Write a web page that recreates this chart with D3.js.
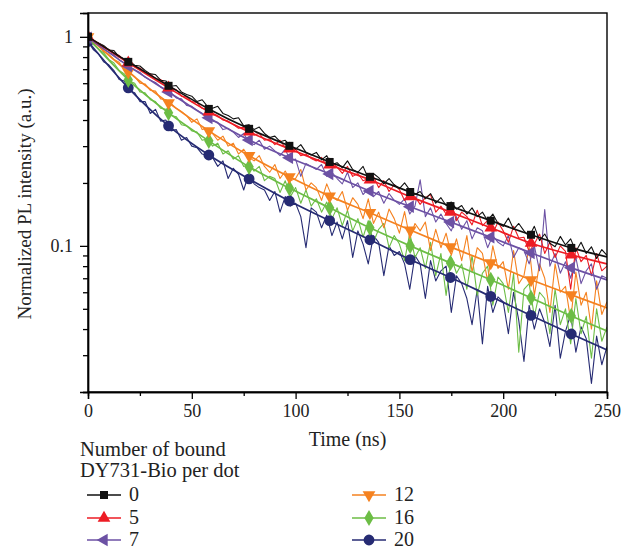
<!DOCTYPE html>
<html>
<head>
<meta charset="utf-8">
<script src="https://cdn.jsdelivr.net/npm/d3@7"></script>
<style>
  body { margin: 0; background: #fff; }
  svg { font-family: "Liberation Serif", "Times New Roman", serif; }
</style>
</head>
<body>
<div id="chart"></div>
<script>
// series labels and colours
var seriesNames = ["0", "5", "7", "12", "16", "20"];
var seriesColors = ["#111111", "#ed1c24", "#6c51a4", "#f58220", "#6cbd45", "#262b73"];

// fitted curves, read at the marker positions (last point is the end of the line)
var fitTimes = [0, 19.4, 38.8, 58.2, 77.6, 97, 116.4, 135.8, 155.2, 174.6, 194, 213.4, 232.8, 250];
var fit0  = [1.0, .759, .583, .452, .363, .301, .252, .214, .181, .155, .132, .113, .0978, .0886];
var fit5  = [1.0, .751, .570, .438, .351, .291, .244, .207, .172, .145, .122, .103, .0906, .0820];
var fit7  = [.989, .726, .545, .410, .321, .264, .221, .183, .154, .130, .110, .0926, .0785, .0688];
var fit12 = [1.0, .680, .483, .355, .270, .214, .173, .144, .119, .0989, .0829, .0688, .0583, .0505];
var fit16 = [.989, .623, .433, .318, .239, .189, .152, .122, .100, .0829, .0688, .0564, .0462, .0392];
var fit20 = [.95, .570, .375, .272, .209, .164, .132, .107, .0860, .0706, .0573, .0465, .0379, .0318];

// measured decays, one value every 2.5 ns from 0 to 250 ns
var traceStep = 2.5;
var trace0 = [1.0, .955, .935, .91, .865, .86, .80, .785, .77, .73, .725, .69, .665, .66, .62, .615,
  .58, .585, .545, .53, .52, .49, .50, .465, .455, .465, .43, .42, .405, .41, .375, .38,
  .36, .37, .345, .33, .335, .315, .32, .30, .29, .305, .28, .272, .28, .258, .27, .245,
  .25, .236, .255, .232, .225, .24, .21, .222, .212, .198, .21, .196, .188, .20, .185, .176,
  .182, .168, .178, .16, .17, .156, .162, .15, .156, .142, .152, .138, .145, .132, .142, .128,
  .124, .136, .12, .128, .118, .111, .124, .106, .114, .103, .099, .111, .101, .108, .094, .104,
  .092, .099, .087, .096, .09];
var trace5 = [.99, .96, .935, .89, .87, .84, .815, .77, .755, .72, .71, .675, .665, .63, .625, .59,
  .565, .56, .52, .515, .49, .485, .455, .45, .43, .42, .40, .395, .38, .365, .37, .345,
  .34, .345, .32, .325, .305, .32, .295, .285, .29, .27, .275, .262, .255, .265, .24, .25,
  .238, .222, .24, .215, .222, .205, .21, .215, .19, .205, .182, .196, .186, .165, .18, .172,
  .158, .17, .176, .145, .155, .142, .16, .132, .145, .138, .126, .148, .125, .132, .115, .13,
  .118, .104, .124, .109, .11, .094, .102, .114, .092, .104, .088, .10, .094, .062, .098, .084,
  .09, .072, .092, .076, .08];
var trace7 = [.98, .94, .915, .875, .845, .82, .775, .75, .72, .695, .675, .64, .62, .605, .575, .56,
  .54, .51, .505, .47, .465, .445, .43, .41, .395, .39, .36, .365, .35, .33, .345, .315,
  .305, .32, .29, .30, .285, .27, .29, .255, .26, .215, .248, .24, .232, .245, .215, .225,
  .21, .198, .225, .19, .20, .176, .188, .172, .182, .16, .178, .165, .158, .168, .142, .155,
  .207, .138, .152, .13, .142, .128, .118, .138, .12, .132, .108, .122, .118, .098, .112, .104,
  .10, .112, .088, .098, .095, .082, .10, .076, .149, .08, .092, .074, .084, .07, .088, .066,
  .076, .082, .062, .072, .07];
var trace12 = [1.0, .94, .915, .85, .825, .78, .755, .69, .68, .645, .60, .595, .555, .55, .505, .50,
  .48, .455, .44, .42, .39, .405, .36, .365, .345, .32, .335, .30, .31, .275, .29, .265,
  .255, .27, .24, .225, .245, .21, .228, .205, .21, .232, .185, .20, .19, .165, .198, .172,
  .165, .182, .148, .17, .158, .135, .168, .128, .145, .122, .15, .135, .115, .146, .108, .128,
  .118, .13, .095, .12, .098, .115, .09, .108, .085, .112, .075, .098, .092, .068, .10, .078,
  .084, .062, .095, .066, .072, .099, .058, .082, .07, .048, .082, .06, .064, .044, .075, .052,
  .06, .04, .068, .047, .054];
var trace16 = [.99, .92, .875, .84, .78, .75, .69, .665, .615, .60, .545, .54, .50, .49, .455, .45,
  .42, .415, .38, .375, .355, .35, .32, .325, .30, .31, .275, .285, .26, .27, .24, .245,
  .228, .24, .205, .215, .21, .18, .205, .172, .19, .16, .185, .155, .168, .145, .162, .135,
  .152, .125, .148, .118, .135, .11, .132, .104, .12, .128, .098, .112, .102, .085, .115, .088,
  .098, .078, .104, .072, .092, .058, .088, .074, .082, .062, .09, .058, .074, .08, .052, .071,
  .066, .048, .074, .031, .062, .066, .046, .06, .056, .038, .062, .042, .05, .034, .056, .038,
  .046, .029, .05, .035, .041];
var trace20 = [.95, .87, .83, .76, .735, .69, .625, .615, .55, .54, .49, .49, .43, .45, .395, .40,
  .355, .36, .32, .33, .30, .295, .275, .27, .265, .24, .255, .21, .235, .22, .185, .222,
  .198, .19, .185, .165, .182, .145, .172, .155, .16, .138, .098, .152, .145, .122, .14, .112,
  .13, .108, .132, .088, .118, .102, .082, .112, .104, .072, .10, .09, .094, .082, .062, .09,
  .082, .056, .085, .068, .076, .08, .048, .072, .066, .056, .042, .062, .034, .064, .048, .057,
  .054, .038, .06, .044, .028, .052, .04, .05, .043, .033, .052, .029, .039, .047, .031, .041,
  .036, .022, .037, .027, .033];

var fits = [fit0, fit5, fit7, fit12, fit16, fit20];
var traces = [trace0, trace5, trace7, trace12, trace16, trace20];

// axis ticks
var xMajorTicks = [0, 50, 100, 150, 200, 250];
var xMinorTicks = [25, 75, 125, 175, 225];
var yMajorTicks = [0.1, 1];
var yMinorTicks = [0.02, 0.03, 0.04, 0.05, 0.06, 0.07, 0.08, 0.09,
                   0.2, 0.3, 0.4, 0.5, 0.6, 0.7, 0.8, 0.9];

var margin = {top: 13, right: 17, bottom: 158, left: 88},
    width = 624 - margin.left - margin.right,
    height = 550 - margin.top - margin.bottom;

var svg = d3.select("#chart")
  .append("svg")
    .attr("width", 624)
    .attr("height", 550)
  .append("g")
    .attr("transform", "translate(" + margin.left + "," + margin.top + ")");

var x = d3.scaleLinear().domain([0, 250]).range([0, width]);
var y = d3.scaleLog().domain([0.02, 1.3]).range([height, 0]);

svg.append("clipPath").attr("id", "plotClip")
  .append("rect").attr("width", width).attr("height", height);

// markers per series
var symbolSpec = [
  {type: d3.symbolSquare, size: 64, rot: 0},
  {type: d3.symbolTriangle, size: 70, rot: 0},
  {type: d3.symbolTriangle, size: 70, rot: -90},
  {type: d3.symbolTriangle, size: 70, rot: 180},
  {type: d3.symbolDiamond, size: 76, rot: 0},
  {type: d3.symbolCircle, size: 92, rot: 0}
];

var plot = svg.append("g").attr("clip-path", "url(#plotClip)");

var traceLine = d3.line()
  .x(function(d, i) { return x(i * traceStep); })
  .y(function(d) { return y(d); });

var fitLine = d3.line()
  .curve(d3.curveMonotoneX)
  .x(function(d, i) { return x(fitTimes[i]); })
  .y(function(d) { return y(d); });

// draw from 20 down to 0 so the top curves sit above
var order = [5, 4, 3, 2, 1, 0];
order.forEach(function(k) {
  plot.append("path")
    .datum(traces[k])
    .attr("d", traceLine)
    .attr("fill", "none")
    .attr("stroke", seriesColors[k])
    .attr("stroke-width", 1.1)
    .attr("stroke-linejoin", "round");
});
order.forEach(function(k) {
  plot.append("path")
    .datum(fits[k])
    .attr("d", fitLine)
    .attr("fill", "none")
    .attr("stroke", seriesColors[k])
    .attr("stroke-width", 1.7);
  plot.selectAll(null)
    .data(fits[k].slice(0, fitTimes.length - 1))
    .enter()
    .append("path")
      .attr("transform", function(d, i) {
        return "translate(" + x(fitTimes[i]) + "," + y(d) + ") rotate(" + symbolSpec[k].rot + ")";
      })
      .attr("d", d3.symbol().type(symbolSpec[k].type).size(symbolSpec[k].size))
      .attr("fill", seriesColors[k]);
});

// frame
svg.append("rect")
  .attr("width", width)
  .attr("height", height)
  .attr("fill", "none")
  .attr("stroke", "#000")
  .attr("stroke-width", 1.4);

// x axis
svg.append("g")
  .attr("transform", "translate(0," + height + ")")
  .call(d3.axisBottom(x).tickValues(xMajorTicks).tickSize(7).tickPadding(5));
svg.append("g")
  .attr("transform", "translate(0," + height + ")")
  .call(d3.axisBottom(x).tickValues(xMinorTicks).tickSize(4).tickFormat(""));

// y axis
svg.append("g")
  .call(d3.axisLeft(y).tickValues(yMajorTicks).tickSize(8).tickPadding(7)
    .tickFormat(function(d) { return d === 1 ? "1" : "0.1"; }));
svg.append("g")
  .call(d3.axisLeft(y).tickValues(yMinorTicks).tickSize(5).tickFormat(""));

svg.selectAll(".domain").attr("stroke-width", 1.4);
svg.selectAll(".tick line").attr("stroke-width", 1.3);
svg.selectAll(".tick text")
  .style("font-family", "'Liberation Serif', 'Times New Roman', serif")
  .style("font-size", "18px")
  .attr("fill", "#222");

// axis titles
svg.append("text")
  .attr("x", width / 2)
  .attr("y", height + 54)
  .attr("text-anchor", "middle")
  .style("font-size", "20px")
  .attr("fill", "#222")
  .text("Time (ns)");

svg.append("text")
  .attr("transform", "rotate(-90)")
  .attr("x", -204 + margin.top)
  .attr("y", 31 - margin.left)
  .attr("text-anchor", "middle")
  .style("font-size", "19px")
  .attr("fill", "#222")
  .text("Normalized PL intensity (a.u.)");

// legend
var legend = d3.select("svg").append("g");
legend.append("text")
  .attr("x", 80).attr("y", 456)
  .style("font-size", "20.5px").attr("fill", "#222")
  .text("Number of bound");
legend.append("text")
  .attr("x", 80).attr("y", 477)
  .style("font-size", "20.5px").attr("fill", "#222")
  .text("DY731-Bio per dot");

var legendCols = [87, 352];
var legendRows = [495, 518, 540];
seriesNames.forEach(function(name, k) {
  var lx = legendCols[Math.floor(k / 3)];
  var ly = legendRows[k % 3];
  var item = legend.append("g");
  item.append("line")
    .attr("x1", lx).attr("x2", lx + 34)
    .attr("y1", ly).attr("y2", ly)
    .attr("stroke", seriesColors[k])
    .attr("stroke-width", 1.5);
  item.append("path")
    .attr("transform", "translate(" + (lx + 17) + "," + ly + ") rotate(" + symbolSpec[k].rot + ")")
    .attr("d", d3.symbol().type(symbolSpec[k].type).size(symbolSpec[k].size))
    .attr("fill", seriesColors[k]);
  item.append("text")
    .attr("x", lx + 42)
    .attr("y", ly + 6)
    .style("font-size", "20px")
    .attr("fill", "#222")
    .text(name);
});
</script>
</body>
</html>
